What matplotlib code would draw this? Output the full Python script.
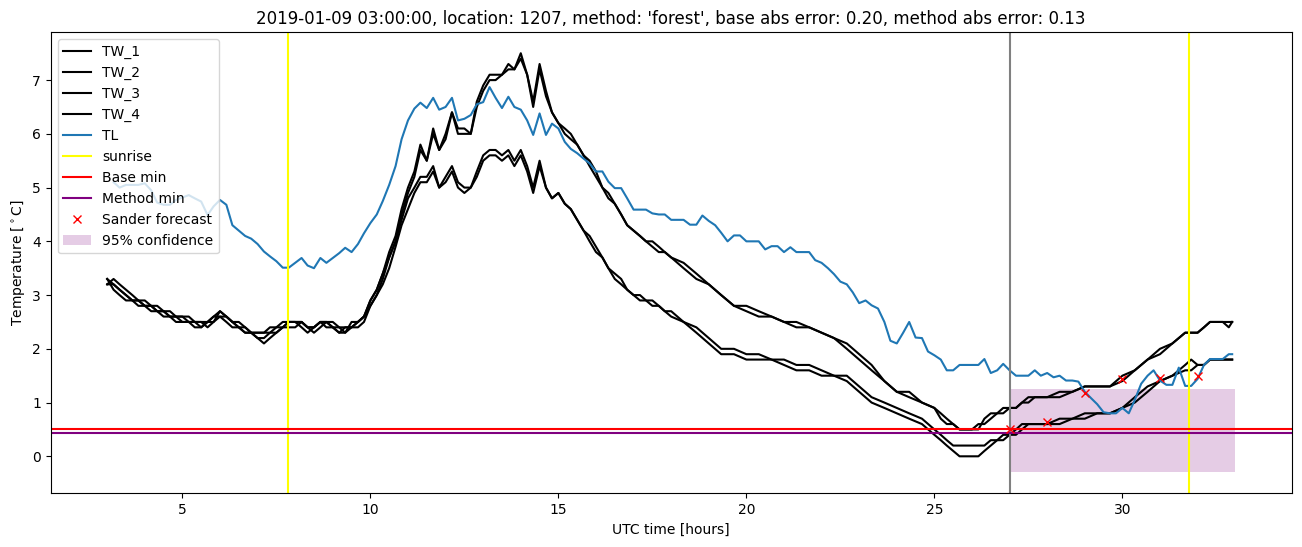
import numpy as np
import matplotlib
matplotlib.use("Agg")
import matplotlib.pyplot as plt

# temps des sondes TW (heures UTC depuis minuit du jour precedent)
tw_hours = [3.0, 3.17, 3.33, 3.5, 3.67, 3.83, 4.0, 4.17, 4.33, 4.5, 4.67, 4.83,
            5.0, 5.17, 5.33, 5.5, 5.67, 5.83, 6.0, 6.17, 6.33, 6.5, 6.67, 6.83,
            7.0, 7.17, 7.33, 7.5, 7.67, 7.83, 8.0, 8.17, 8.33, 8.5, 8.67, 8.83,
            9.0, 9.17, 9.33, 9.5, 9.67, 9.83, 10.0, 10.17, 10.33, 10.5, 10.67, 10.83,
            11.0, 11.17, 11.33, 11.5, 11.67, 11.83, 12.0, 12.17, 12.33, 12.5, 12.67, 12.83,
            13.0, 13.17, 13.33, 13.5, 13.67, 13.83, 14.0, 14.17, 14.33, 14.5, 14.67, 14.83,
            15.0, 15.17, 15.33, 15.5, 15.67, 15.83, 16.0, 16.17, 16.33, 16.5, 16.67, 16.83,
            17.0, 17.17, 17.33, 17.5, 17.67, 17.83, 18.0,
            18.33, 18.67, 19.0, 19.33, 19.67, 20.0, 20.33, 20.67, 21.0, 21.33, 21.67, 22.0,
            22.33, 22.67, 23.0, 23.33, 23.67, 24.0, 24.33, 24.67, 25.0,
            25.17, 25.33, 25.5, 25.67, 26.0, 26.17, 26.33, 26.5, 26.67, 26.83, 27.0, 27.17,
            27.33, 27.5, 27.67, 28.0, 28.33, 28.67, 29.0, 29.33, 29.67, 30.0, 30.33, 30.67,
            31.0, 31.33, 31.67, 31.83, 32.0, 32.17, 32.33, 32.67, 32.83, 32.92]

tw_1 = [3.3, 3.2, 3.1, 3.0, 2.9, 2.9, 2.8, 2.8, 2.7, 2.7, 2.6, 2.6,
        2.6, 2.5, 2.5, 2.5, 2.5, 2.6, 2.7, 2.6, 2.5, 2.4, 2.4, 2.3,
        2.3, 2.3, 2.3, 2.4, 2.5, 2.5, 2.5, 2.5, 2.4, 2.4, 2.5, 2.5,
        2.4, 2.4, 2.4, 2.4, 2.5, 2.6, 2.9, 3.1, 3.4, 3.8, 4.1, 4.6,
        5.0, 5.3, 5.8, 5.5, 6.1, 5.7, 6.0, 6.4, 6.1, 6.1, 6.0, 6.6,
        6.9, 7.1, 7.1, 7.1, 7.3, 7.2, 7.5, 7.1, 6.6, 7.3, 6.8, 6.4,
        6.2, 6.1, 6.0, 5.8, 5.6, 5.5, 5.3, 5.0, 4.9, 4.7, 4.5, 4.3,
        4.2, 4.1, 4.0, 4.0, 3.9, 3.8, 3.7,
        3.6, 3.4, 3.2, 3.0, 2.8, 2.8, 2.7, 2.6, 2.5, 2.5, 2.4, 2.3,
        2.2, 2.1, 1.9, 1.7, 1.4, 1.2, 1.2, 1.0, 0.9,
        0.8, 0.7, 0.6, 0.5, 0.5, 0.5, 0.7, 0.8, 0.8, 0.9, 0.9, 0.9,
        1.0, 1.1, 1.1, 1.1, 1.2, 1.2, 1.3, 1.3, 1.3, 1.5, 1.6, 1.8,
        2.0, 2.1, 2.3, 2.3, 2.3, 2.4, 2.5, 2.5, 2.5, 2.5]

tw_2 = [3.2, 3.3, 3.2, 3.1, 3.0, 2.9, 2.9, 2.8, 2.8, 2.7, 2.7, 2.6,
        2.5, 2.5, 2.5, 2.4, 2.5, 2.6, 2.6, 2.5, 2.4, 2.4, 2.3, 2.3,
        2.2, 2.1, 2.2, 2.3, 2.4, 2.5, 2.5, 2.4, 2.3, 2.4, 2.5, 2.4,
        2.4, 2.3, 2.3, 2.5, 2.5, 2.6, 2.8, 3.0, 3.3, 3.7, 4.0, 4.5,
        4.9, 5.2, 5.7, 5.5, 6.0, 5.7, 5.9, 6.4, 6.0, 6.0, 6.0, 6.5,
        6.8, 7.0, 7.0, 7.1, 7.2, 7.2, 7.4, 7.1, 6.5, 7.2, 6.7, 6.4,
        6.2, 6.0, 5.9, 5.8, 5.6, 5.4, 5.2, 5.0, 4.8, 4.7, 4.5, 4.3,
        4.2, 4.1, 4.0, 3.9, 3.8, 3.8, 3.7,
        3.5, 3.3, 3.2, 3.0, 2.8, 2.7, 2.6, 2.6, 2.5, 2.4, 2.4, 2.3,
        2.2, 2.0, 1.8, 1.6, 1.4, 1.2, 1.1, 1.0, 0.9,
        0.7, 0.6, 0.6, 0.5, 0.5, 0.6, 0.6, 0.7, 0.8, 0.8, 0.9, 0.9,
        1.0, 1.0, 1.1, 1.1, 1.1, 1.2, 1.3, 1.3, 1.3, 1.4, 1.6, 1.8,
        1.9, 2.1, 2.3, 2.3, 2.3, 2.4, 2.5, 2.5, 2.4, 2.5]

tw_3 = [3.2, 3.2, 3.1, 3.0, 2.9, 2.8, 2.8, 2.7, 2.7, 2.6, 2.6, 2.5,
        2.5, 2.5, 2.4, 2.4, 2.5, 2.5, 2.6, 2.6, 2.5, 2.4, 2.3, 2.3,
        2.2, 2.2, 2.3, 2.3, 2.4, 2.4, 2.4, 2.5, 2.4, 2.3, 2.4, 2.5,
        2.4, 2.3, 2.4, 2.4, 2.5, 2.6, 2.9, 3.1, 3.4, 3.7, 4.0, 4.4,
        4.8, 5.0, 5.2, 5.2, 5.4, 5.0, 5.2, 5.4, 5.1, 5.0, 5.0, 5.3,
        5.6, 5.7, 5.7, 5.6, 5.7, 5.5, 5.7, 5.4, 5.0, 5.5, 5.0, 4.8,
        4.9, 4.7, 4.6, 4.4, 4.2, 4.1, 3.9, 3.7, 3.5, 3.4, 3.3, 3.1,
        3.0, 3.0, 2.9, 2.9, 2.8, 2.7, 2.7,
        2.5, 2.4, 2.2, 2.0, 2.0, 1.9, 1.9, 1.8, 1.8, 1.7, 1.7, 1.6,
        1.5, 1.5, 1.3, 1.1, 1.0, 0.9, 0.8, 0.7, 0.5,
        0.4, 0.3, 0.2, 0.2, 0.2, 0.2, 0.2, 0.3, 0.3, 0.4, 0.4, 0.5,
        0.6, 0.6, 0.6, 0.6, 0.7, 0.7, 0.8, 0.8, 0.8, 0.9, 1.1, 1.3,
        1.4, 1.5, 1.7, 1.8, 1.7, 1.7, 1.8, 1.8, 1.8, 1.8]

tw_4 = [3.3, 3.1, 3.0, 2.9, 2.9, 2.9, 2.8, 2.8, 2.7, 2.7, 2.6, 2.6,
        2.6, 2.6, 2.5, 2.5, 2.4, 2.5, 2.7, 2.6, 2.5, 2.5, 2.4, 2.3,
        2.3, 2.3, 2.4, 2.4, 2.4, 2.5, 2.5, 2.5, 2.4, 2.4, 2.5, 2.5,
        2.5, 2.4, 2.3, 2.4, 2.4, 2.5, 2.8, 3.0, 3.2, 3.5, 3.9, 4.3,
        4.6, 4.9, 5.1, 5.1, 5.3, 5.0, 5.1, 5.3, 5.0, 4.9, 5.0, 5.2,
        5.5, 5.6, 5.6, 5.5, 5.6, 5.4, 5.6, 5.3, 4.9, 5.4, 5.0, 4.8,
        4.9, 4.7, 4.6, 4.4, 4.2, 4.0, 3.8, 3.7, 3.5, 3.3, 3.2, 3.1,
        3.0, 2.9, 2.9, 2.8, 2.8, 2.7, 2.6,
        2.5, 2.3, 2.1, 1.9, 1.9, 1.8, 1.8, 1.8, 1.7, 1.6, 1.6, 1.5,
        1.5, 1.4, 1.2, 1.0, 0.9, 0.8, 0.7, 0.6, 0.4,
        0.3, 0.2, 0.1, 0.0, 0.0, 0.0, 0.1, 0.2, 0.3, 0.3, 0.4, 0.4,
        0.5, 0.6, 0.6, 0.6, 0.6, 0.7, 0.7, 0.8, 0.8, 0.9, 1.0, 1.2,
        1.4, 1.5, 1.6, 1.6, 1.7, 1.7, 1.8, 1.8, 1.8, 1.8]

# temperature de l'air TL
tl_hours = [3.17, 3.33, 3.5, 3.83, 4.0, 4.17, 4.33, 4.5, 4.67, 4.83, 5.17, 5.33,
            5.5, 5.67, 5.83, 6.0, 6.17, 6.33, 6.5, 6.67, 6.83, 7.0, 7.17, 7.33,
            7.5, 7.67, 7.83, 8.0, 8.17, 8.33, 8.5, 8.67, 8.83, 9.0, 9.17, 9.33,
            9.5, 9.67, 9.83, 10.0, 10.17, 10.33, 10.5, 10.67, 10.83, 11.0, 11.17, 11.33,
            11.5, 11.67, 11.83, 12.0, 12.17, 12.33, 12.5, 12.67, 12.83, 13.0, 13.17, 13.33,
            13.5, 13.67, 13.83, 14.0, 14.17, 14.33, 14.5, 14.67, 14.83, 15.0, 15.17, 15.33,
            15.5, 15.67, 15.83, 16.0, 16.17, 16.33, 16.5, 16.67, 16.83, 17.0, 17.17, 17.33,
            17.5, 17.67, 17.83, 18.0, 18.17, 18.33, 18.5, 18.67, 18.83, 19.0, 19.17, 19.33,
            19.5, 19.67, 19.83, 20.0, 20.17, 20.33, 20.5, 20.67, 20.83, 21.0, 21.17, 21.33,
            21.5, 21.67, 21.83, 22.0, 22.17, 22.33, 22.5, 22.67, 22.83, 23.0, 23.17, 23.33,
            23.5, 23.67, 23.83, 24.0, 24.17, 24.33, 24.5, 24.67, 24.83, 25.0, 25.17, 25.33,
            25.5, 25.67, 25.83, 26.0, 26.17, 26.33, 26.5, 26.67, 26.83, 27.0, 27.17, 27.33,
            27.5, 27.67, 27.83, 28.0, 28.17, 28.33, 28.5, 28.67, 28.83, 29.0, 29.17, 29.33,
            29.5, 29.67, 29.83, 30.0, 30.17, 30.33, 30.5, 30.67, 30.83, 31.0, 31.17, 31.33,
            31.5, 31.67, 31.83, 32.0, 32.17, 32.33, 32.5, 32.67, 32.83, 32.92]

tl_values = [5.1, 5.0, 5.05, 5.05, 5.08, 4.95, 4.72, 4.68, 4.68, 4.77, 4.86, 4.8,
             4.74, 4.49, 4.65, 4.77, 4.68, 4.3, 4.2, 4.1, 4.05, 3.95, 3.81, 3.72,
             3.63, 3.51, 3.51, 3.6, 3.69, 3.55, 3.5, 3.69, 3.6, 3.69, 3.78, 3.88,
             3.8, 3.95, 4.15, 4.34, 4.5, 4.75, 5.05, 5.4, 5.9, 6.25, 6.47, 6.58,
             6.48, 6.67, 6.45, 6.5, 6.67, 6.25, 6.28, 6.35, 6.55, 6.59, 6.87, 6.67,
             6.48, 6.69, 6.5, 6.45, 6.25, 5.98, 6.38, 5.98, 6.19, 6.1, 5.85, 5.72,
             5.64, 5.54, 5.45, 5.3, 5.3, 5.11, 4.99, 4.99, 4.8, 4.59, 4.59, 4.59,
             4.52, 4.5, 4.5, 4.4, 4.4, 4.4, 4.31, 4.31, 4.48, 4.38, 4.3, 4.16,
             4.0, 4.11, 4.11, 4.0, 4.0, 4.0, 3.85, 3.91, 3.91, 3.8, 3.89, 3.8,
             3.8, 3.8, 3.65, 3.6, 3.5, 3.39, 3.25, 3.2, 3.05, 2.85, 2.9, 2.81,
             2.75, 2.5, 2.15, 2.1, 2.3, 2.5, 2.21, 2.2, 1.95, 1.88, 1.8, 1.6,
             1.6, 1.7, 1.7, 1.7, 1.7, 1.81, 1.55, 1.6, 1.72, 1.6, 1.5, 1.5,
             1.5, 1.6, 1.5, 1.55, 1.47, 1.5, 1.41, 1.41, 1.39, 1.2, 1.08, 0.97,
             0.82, 0.8, 0.8, 0.9, 0.8, 1.05, 1.35, 1.5, 1.6, 1.41, 1.33, 1.33,
             1.65, 1.31, 1.31, 1.44, 1.7, 1.81, 1.81, 1.81, 1.9, 1.9]

sunrise_hours = [7.8, 31.77]
forecast_start = 27.0
base_min = 0.5
method_min = 0.43

sander_hours = [27, 28, 29, 30, 31, 32]
sander_values = [0.5, 0.63, 1.18, 1.44, 1.45, 1.5]

conf_hours = [27, 33]
conf_low = [-0.3, -0.3]
conf_high = [1.25, 1.25]

fig = plt.figure(figsize=(13.02, 5.47), dpi=100)
ax = fig.add_axes([0.039, 0.098, 0.953, 0.843])

for name, vals in zip(["TW_1", "TW_2", "TW_3", "TW_4"], [tw_1, tw_2, tw_3, tw_4]):
    ax.plot(tw_hours, vals, color="black", label=name)
ax.plot(tl_hours, tl_values, color="C0", label="TL")

ax.axvline(sunrise_hours[0], color="yellow", label="sunrise")
ax.axvline(sunrise_hours[1], color="yellow")
ax.axvline(forecast_start, color="gray")
ax.axhline(base_min, color="red", label="Base min")
ax.axhline(method_min, color="purple", label="Method min")
ax.plot(sander_hours, sander_values, "x", color="red", label="Sander forecast")
ax.fill_between(conf_hours, conf_low, conf_high, color="purple", alpha=0.2,
                linewidth=0, label="95% confidence")

ax.set_xlabel("UTC time [hours]")
ax.set_ylabel(r"Temperature [$^\circ$C]")
ax.set_title("2019-01-09 03:00:00, location: 1207, method: 'forest', "
             "base abs error: 0.20, method abs error: 0.13")
ax.legend(loc="upper left")

fig.savefig("out.png", dpi=100)
